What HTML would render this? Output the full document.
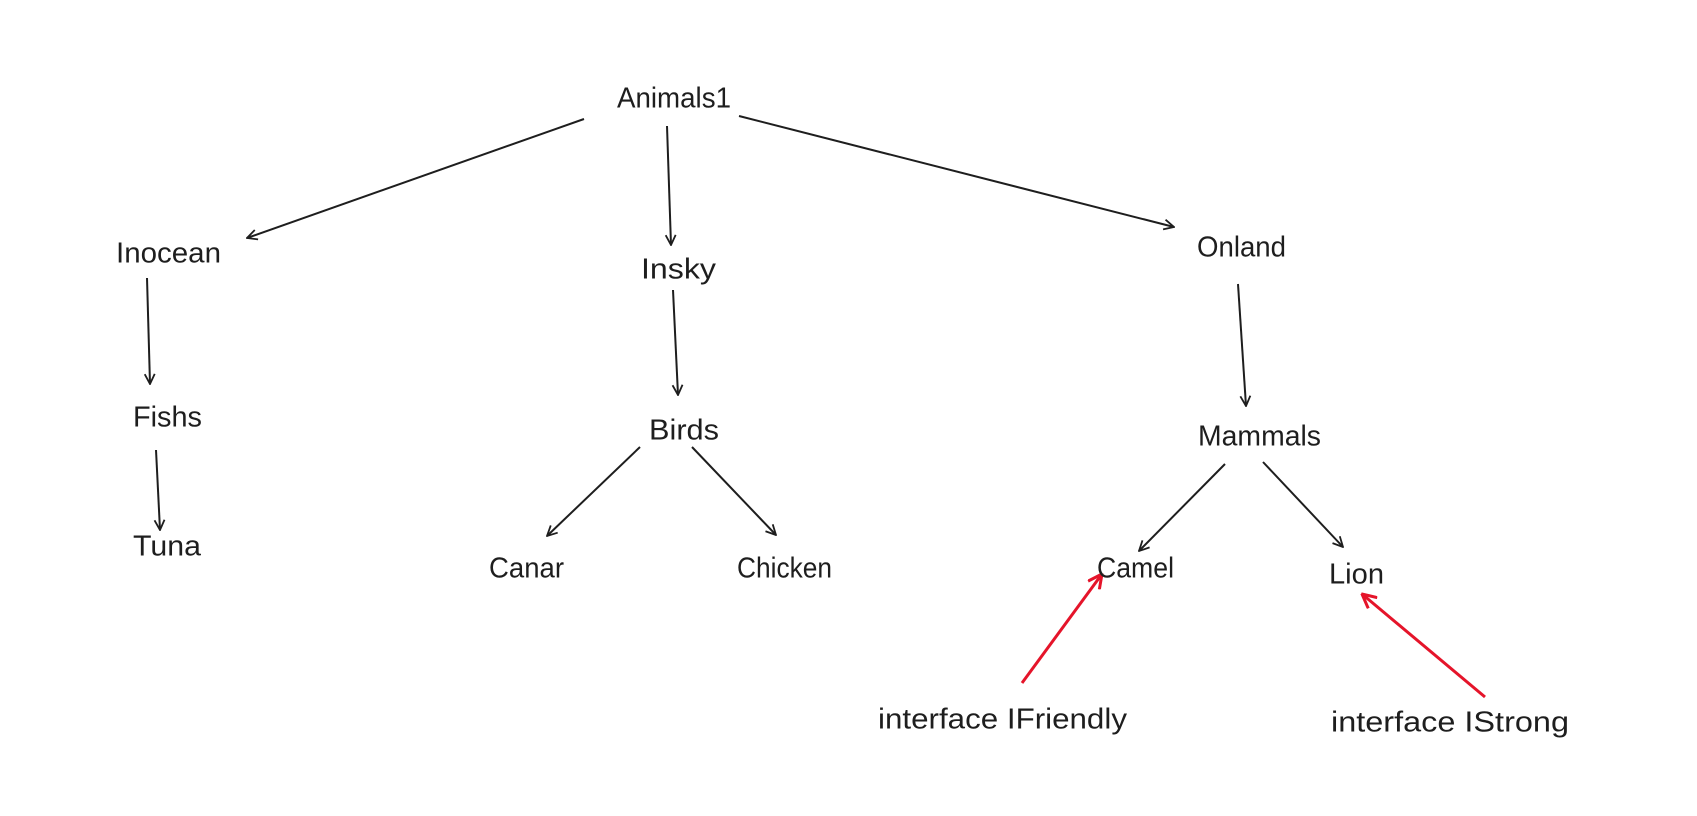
<!DOCTYPE html>
<html><head><meta charset="utf-8"><style>
html,body{margin:0;padding:0;background:#fff;}
svg{display:block}
text{font-family:"Liberation Sans",sans-serif;font-size:29px;fill:#1e1e1e;dominant-baseline:middle;}
</style></head><body>
<svg width="1697" height="816" viewBox="0 0 1697 816" xmlns="http://www.w3.org/2000/svg">
<defs>
<marker id="a" viewBox="0 0 12 12" refX="11" refY="6" markerWidth="12" markerHeight="12" markerUnits="userSpaceOnUse" orient="auto"><path d="M1,1 L11,6 L1,11" fill="none" stroke="#1e1e1e" stroke-width="1.8"/></marker>
<marker id="r" viewBox="0 0 16 16" refX="15" refY="8" markerWidth="16" markerHeight="16" markerUnits="userSpaceOnUse" orient="auto"><path d="M1,1 L15,8 L1,15" fill="none" stroke="#e5142a" stroke-width="3"/></marker>
</defs>
<g stroke="#1e1e1e" stroke-width="2" fill="none" marker-end="url(#a)">
<line x1="584" y1="119" x2="247" y2="238"/>
<line x1="667" y1="126" x2="671" y2="245"/>
<line x1="739" y1="116" x2="1174" y2="227"/>
<line x1="147" y1="278" x2="150" y2="384"/>
<line x1="673" y1="290" x2="678" y2="395"/>
<line x1="1238" y1="284" x2="1246" y2="406"/>
<line x1="156" y1="450" x2="160" y2="530"/>
<line x1="640" y1="447" x2="547" y2="536"/>
<line x1="692" y1="447" x2="776" y2="535"/>
<line x1="1225" y1="464" x2="1139" y2="551"/>
<line x1="1263" y1="462" x2="1343" y2="547"/>
</g>
<g stroke="#e5142a" stroke-width="3" fill="none" marker-end="url(#r)">
<line x1="1022" y1="683" x2="1102" y2="574"/>
<line x1="1485" y1="697" x2="1362" y2="594"/>
</g>
<g transform="translate(0,3)">
<text x="617" y="97" textLength="114" lengthAdjust="spacingAndGlyphs">Animals1</text>
<text x="116" y="252" textLength="105" lengthAdjust="spacingAndGlyphs">Inocean</text>
<text x="641" y="268" textLength="75" lengthAdjust="spacingAndGlyphs">Insky</text>
<text x="1197" y="246" textLength="89" lengthAdjust="spacingAndGlyphs">Onland</text>
<text x="133" y="416" textLength="69" lengthAdjust="spacingAndGlyphs">Fishs</text>
<text x="649" y="429" textLength="70" lengthAdjust="spacingAndGlyphs">Birds</text>
<text x="1198" y="435" textLength="123" lengthAdjust="spacingAndGlyphs">Mammals</text>
<text x="133" y="545" textLength="68" lengthAdjust="spacingAndGlyphs">Tuna</text>
<text x="489" y="567" textLength="75" lengthAdjust="spacingAndGlyphs">Canar</text>
<text x="737" y="567" textLength="95" lengthAdjust="spacingAndGlyphs">Chicken</text>
<text x="1097" y="567" textLength="77" lengthAdjust="spacingAndGlyphs">Camel</text>
<text x="1329" y="573" textLength="55" lengthAdjust="spacingAndGlyphs">Lion</text>
<text x="878" y="718" textLength="249" lengthAdjust="spacingAndGlyphs">interface IFriendly</text>
<text x="1331" y="721" textLength="238" lengthAdjust="spacingAndGlyphs">interface IStrong</text>
</g>
</svg>
</body></html>
